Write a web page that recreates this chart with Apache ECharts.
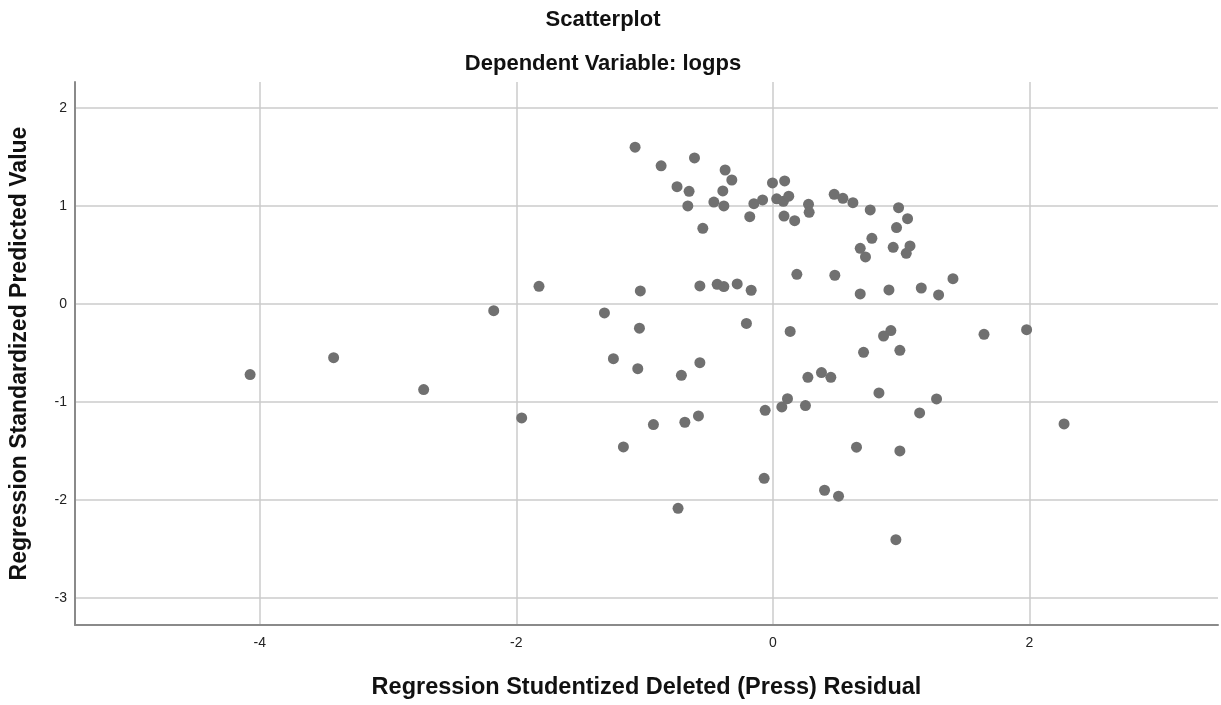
<!DOCTYPE html>
<html>
<head>
<meta charset="utf-8">
<title>Scatterplot</title>
<script src="https://cdn.jsdelivr.net/npm/echarts@6/dist/echarts.min.js"></script>
<style>
  html, body { margin: 0; padding: 0; background: #ffffff; }
  #chart { width: 1221px; height: 705px; }
</style>
</head>
<body>
<div id="chart"></div>
<script>
// Studentized deleted (press) residuals, one per case
const residuals = [
  -1.074, -0.871, -0.611, -0.372, -0.320, -0.747, -0.653, -0.390, -0.003, 0.092,
  -0.663, -0.460, -0.382, -0.148, -0.080, 0.030, 0.082, 0.124, -0.180, 0.087,
  0.170, -0.546, -1.823, -1.033, -0.569, -0.434, -0.382, -0.278, -0.169, 0.187,
  -1.313, -1.040, -0.206, 0.135, 0.278, 0.283, 0.478, 0.546, 0.624, 0.759,
  0.980, 1.050, 0.964, 0.772, 0.681, 0.722, 0.938, 1.069, 1.040, 0.483,
  0.681, 0.905, 1.157, 1.292, 1.404, -4.075, -3.424, -2.722, -2.176, -1.958,
  -1.243, -1.053, -0.713, -0.569, 0.273, 0.379, 0.114, 0.070, 0.254, -0.060,
  -0.931, -0.686, -0.580, -1.165, 0.920, 0.863, 0.707, 0.990, 1.646, 1.978,
  0.452, 0.827, 1.276, 1.144, 2.270, 0.652, 0.990, -0.068, -0.739, 0.403,
  0.512, 0.959
];

// Standardized predicted values, same case order
const predicted = [
  1.600, 1.410, 1.490, 1.367, 1.265, 1.197, 1.150, 1.153, 1.235, 1.256,
  1.000, 1.040, 1.000, 1.023, 1.062, 1.073, 1.047, 1.100, 0.891, 0.897,
  0.850, 0.772, 0.180, 0.133, 0.184, 0.200, 0.177, 0.204, 0.140, 0.302,
  -0.092, -0.247, -0.199, -0.280, 1.017, 0.935, 1.119, 1.078, 1.034, 0.959,
  0.983, 0.870, 0.779, 0.670, 0.568, 0.480, 0.578, 0.592, 0.517, 0.293,
  0.102, 0.143, 0.163, 0.092, 0.258, -0.721, -0.548, -0.874, -0.068, -1.163,
  -0.558, -0.660, -0.728, -0.599, -0.748, -0.700, -0.966, -1.051, -1.037, -1.085,
  -1.231, -1.207, -1.143, -1.459, -0.272, -0.327, -0.493, -0.473, -0.310, -0.262,
  -0.748, -0.908, -0.969, -1.112, -1.224, -1.462, -1.500, -1.779, -2.085, -1.901,
  -1.962, -2.405
];

const xTicks = [-4, -2, 0, 2];
const yTicks = [-3, -2, -1, 0, 1, 2];

const chartTitle = 'Scatterplot';
const chartSubtitle = 'Dependent Variable: logps';
const xAxisTitle = 'Regression Studentized Deleted (Press) Residual';
const yAxisTitle = 'Regression Standardized Predicted Value';

const points = residuals.map((x, i) => [x, predicted[i]]);

const FONT = '"Liberation Sans", Arial, sans-serif';
const gridColor = '#cbcbcb';
const axisColor = '#8a8a8a';

const chart = echarts.init(document.getElementById('chart'), null, { renderer: 'canvas' });

chart.setOption({
  backgroundColor: '#ffffff',
  animation: false,
  title: [
    {
      text: chartTitle,
      left: 598,
      top: 4,
      textAlign: 'center',
      textStyle: { fontFamily: FONT, fontSize: 22, fontWeight: 'bold', color: '#111111' }
    },
    {
      text: chartSubtitle,
      left: 598,
      top: 48,
      textAlign: 'center',
      textStyle: { fontFamily: FONT, fontSize: 22, fontWeight: 'bold', color: '#111111' }
    }
  ],
  grid: { left: 75, right: 3, top: 82, bottom: 80, containLabel: false },
  xAxis: {
    type: 'value',
    min: -5.44,
    max: 3.47,
    name: xAxisTitle,
    nameLocation: 'middle',
    nameGap: 51,
    nameTextStyle: { fontFamily: FONT, fontSize: 23.5, fontWeight: 'bold', color: '#111111' },
    axisLine: { show: true, onZero: false, lineStyle: { color: axisColor, width: 2 } },
    axisTick: { show: false, customValues: xTicks },
    axisLabel: {
      customValues: xTicks,
      margin: 11,
      fontFamily: FONT,
      fontSize: 14,
      color: '#222222'
    },
    splitLine: { show: true, lineStyle: { color: gridColor, width: 1.5 } }
  },
  yAxis: {
    type: 'value',
    min: -3.276,
    max: 2.265,
    name: yAxisTitle,
    nameLocation: 'middle',
    nameGap: 44,
    nameRotate: 90,
    nameTextStyle: { fontFamily: FONT, fontSize: 23, fontWeight: 'bold', color: '#111111' },
    axisLine: { show: true, onZero: false, lineStyle: { color: axisColor, width: 2 } },
    axisTick: { show: false, customValues: yTicks },
    axisLabel: {
      customValues: yTicks,
      margin: 8,
      fontFamily: FONT,
      fontSize: 14,
      color: '#222222'
    },
    splitLine: { show: true, lineStyle: { color: gridColor, width: 1.5 } }
  },
  series: [
    {
      type: 'scatter',
      data: points,
      symbol: 'circle',
      symbolSize: 11,
      itemStyle: { color: '#707070', opacity: 1 },
      z: 5
    }
  ]
});
</script>
</body>
</html>
